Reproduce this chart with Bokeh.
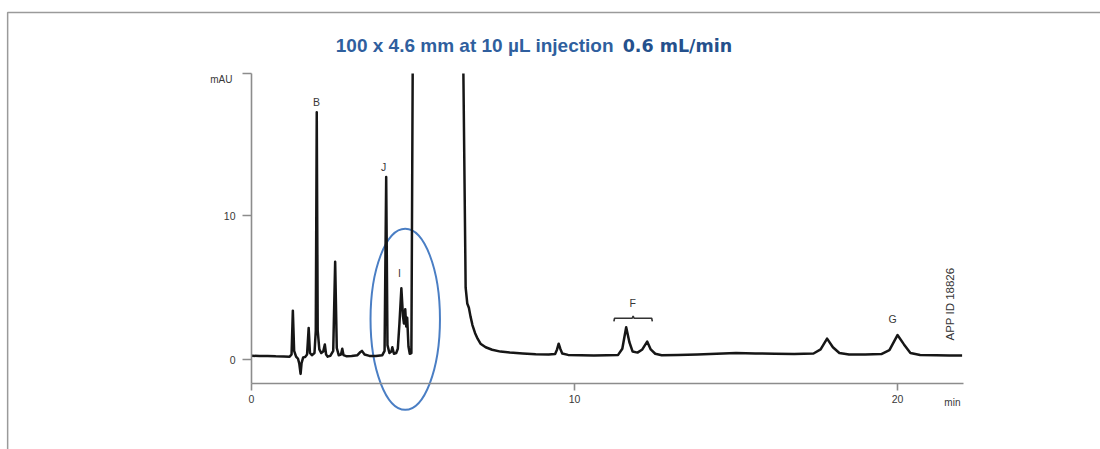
import numpy as np
from bokeh.plotting import figure
from bokeh.models import ColumnDataSource, LinearAxis, FixedTicker, Range1d
from bokeh.core.properties import value
from bokeh.embed import file_html
from bokeh.resources import INLINE

# ---------------- data ----------------
time_min = [0.00, 0.25, 0.50, 0.75, 1.00, 1.18, 1.24, 1.28, 1.32, 1.38, 1.44, 1.48, 1.52, 1.55,
            1.60, 1.66, 1.72, 1.77, 1.81, 1.87, 1.95, 1.99, 2.02, 2.05, 2.10, 2.16, 2.22, 2.27,
            2.31, 2.36, 2.44, 2.53, 2.59, 2.64, 2.70, 2.77, 2.81, 2.85, 2.95, 3.10, 3.28, 3.36,
            3.42, 3.50, 3.65, 3.85, 4.05, 4.12, 4.17, 4.21, 4.27, 4.33, 4.36, 4.41, 4.48, 4.53,
            4.58, 4.64, 4.69, 4.72, 4.76, 4.79, 4.82, 4.86, 4.90, 4.95, 4.99,
            np.nan,
            6.56, 6.63, 6.68, 6.73, 6.78, 6.84, 6.92, 7.00, 7.09, 7.25, 7.45, 7.71, 8.00, 8.40,
            8.80, 9.20, 9.40, 9.46, 9.51, 9.56, 9.62, 9.80, 10.20, 10.60, 11.00, 11.35, 11.48,
            11.60, 11.70, 11.80, 11.95, 12.10, 12.25, 12.36, 12.50, 12.70, 13.20, 13.80, 14.40,
            15.00, 15.60, 16.20, 16.80, 17.40, 17.62, 17.82, 18.00, 18.20, 18.50, 19.00, 19.50,
            19.75, 20.00, 20.20, 20.40, 20.70, 21.20, 21.60, 22.00]
signal_mau = [0.26, 0.24, 0.25, 0.22, 0.21, 0.20, 0.35, 3.40, 0.60, 0.20, 0.05, -0.30, -1.00, -0.25,
              0.15, 0.18, 0.35, 2.20, 0.45, 0.30, 0.45, 2.00, 17.2, 2.00, 0.70, 0.45, 0.55, 1.05,
              0.35, 0.20, 0.25, 0.60, 6.80, 0.80, 0.30, 0.35, 0.75, 0.30, 0.22, 0.24, 0.30, 0.50,
              0.60, 0.35, 0.25, 0.24, 0.30, 0.60, 12.7, 1.00, 0.45, 0.55, 0.85, 0.40, 0.45, 0.75,
              2.50, 4.95, 3.00, 2.50, 3.50, 2.30, 2.90, 0.90, 0.40, 0.45, 19.9,
              np.nan,
              19.9, 5.00, 3.90, 3.60, 3.00, 2.40, 1.85, 1.45, 1.10, 0.85, 0.68, 0.55, 0.48, 0.42,
              0.36, 0.34, 0.38, 0.70, 1.10, 0.75, 0.42, 0.32, 0.30, 0.28, 0.30, 0.32, 0.75,
              2.25, 1.20, 0.55, 0.48, 0.70, 1.25, 0.70, 0.40, 0.30, 0.32, 0.35, 0.40,
              0.45, 0.42, 0.40, 0.38, 0.42, 0.70, 1.45, 0.85, 0.45, 0.35, 0.35, 0.38,
              0.65, 1.70, 1.05, 0.45, 0.32, 0.30, 0.28, 0.28]

peak_labels = ["B", "J", "I", "F", "G"]
peak_label_time = [2.01, 4.09, 4.58, 11.80, 19.85]
peak_label_mau = [17.9, 13.4, 6.05, 3.9, 2.85]

f_group_span = [11.22, 12.41]      # brace over the F peaks (min)
f_group_level = 2.87               # mAU

highlight_center = [4.76, 2.8]     # ellipse round peak I (min, mAU)
highlight_size = [2.15, 12.6]

x_ticks = [0, 10, 20]
y_ticks = [0, 10, 19.9]
x_axis_end = 22.04
y_axis_bottom = -1.65
y_axis_top = 19.9

title_main = "100 x 4.6 mm at 10 \u00b5L injection"
title_flow = "0.6 mL/min"
app_id = "APP ID 18826"

# ---------------- figure ----------------
FONT = "Liberation Sans"
AX = "#8c8c8c"
TXT = "#383838"

p = figure(width=1100, height=449, output_backend="svg", toolbar_location=None,
           x_range=Range1d(-7.771, 26.285), y_range=Range1d(-6.263, 24.983),
           x_axis_location=None, y_axis_location=None, min_border=0,
           min_border_left=0, min_border_right=0, min_border_top=0, min_border_bottom=0)
p.outline_line_color = None
p.grid.grid_line_color = None
p.background_fill_color = "white"
p.border_fill_color = "white"

# picture frame lines (top and left)
p.line(x=[-7.55, -7.55, 26.4], y=[-6.4, 24.15, 24.15], line_color="#9a9a9a", line_width=1.5)

xaxis = LinearAxis(fixed_location=y_axis_bottom, bounds=(0, x_axis_end),
                   ticker=FixedTicker(ticks=x_ticks),
                   axis_line_color=AX, axis_line_width=1.6,
                   major_tick_line_color=AX, major_tick_line_width=1.6,
                   major_tick_in=0, major_tick_out=7, minor_tick_line_color=None,
                   major_label_standoff=5, major_label_text_font=FONT,
                   major_label_text_font_size="10.5px", major_label_text_color=TXT)
p.add_layout(xaxis, "below")

yaxis = LinearAxis(fixed_location=0, bounds=(y_axis_bottom, y_axis_top + 0.02),
                   ticker=FixedTicker(ticks=y_ticks),
                   major_label_overrides={19.9: ""},
                   axis_line_color=AX, axis_line_width=1.6,
                   major_tick_line_color=AX, major_tick_line_width=1.6,
                   major_tick_in=0, major_tick_out=9, minor_tick_line_color=None,
                   major_label_standoff=7, major_label_text_font=FONT,
                   major_label_text_font_size="10.5px", major_label_text_color=TXT)
p.add_layout(yaxis, "left")

# highlight ellipse
p.ellipse(x=[highlight_center[0]], y=[highlight_center[1]],
          width=[highlight_size[0]], height=[highlight_size[1]],
          fill_color=None, line_color="#4a7ec4", line_width=2)

# chromatogram trace
src = ColumnDataSource(dict(t=time_min, v=signal_mau))
p.line("t", "v", source=src, line_color="#161616", line_width=2.5, line_join="round")

# F brace
a, b = f_group_span
m = (a + b) / 2
p.line(x=[a, a + 0.02, m - 0.03, m, m + 0.03, b - 0.02, b],
       y=[f_group_level - 0.22, f_group_level, f_group_level, f_group_level + 0.15,
          f_group_level, f_group_level, f_group_level - 0.22],
       line_color="#333333", line_width=1.6)

# peak labels
p.text(x=peak_label_time, y=peak_label_mau, text=peak_labels,
       text_font=value(FONT), text_font_size="10.5px", text_color=TXT,
       text_align="center", text_baseline="middle")

# unit labels
p.text(x=[-0.59], y=[19.49], text=["mAU"], text_font=value(FONT), text_font_size="10px",
       text_color=TXT, text_align="right", text_baseline="middle")
p.text(x=[21.70], y=[-2.99], text=["min"], text_font=value(FONT), text_font_size="10px",
       text_color=TXT, text_align="center", text_baseline="middle")

# app id (rotated)
p.text(x=[21.64], y=[1.32], text=[app_id], angle=np.pi / 2, text_font=value(FONT),
       text_font_size="11.5px", text_color="#333333", text_align="left", text_baseline="middle")

# title (two weights)
p.text(x=[11.22], y=[21.85], text=[title_main], text_font=value(FONT), text_font_size="19px",
       text_font_style="bold", text_color="#2f5f9e", text_align="right", text_baseline="middle")
p.text(x=[11.49], y=[21.85], text=[title_flow], text_font=value("DejaVu Sans"), text_font_size="17.5px",
       text_font_style="bold", text_color="#24508c", text_align="left", text_baseline="middle")

open("out.html", "w").write(file_html(p, INLINE))
